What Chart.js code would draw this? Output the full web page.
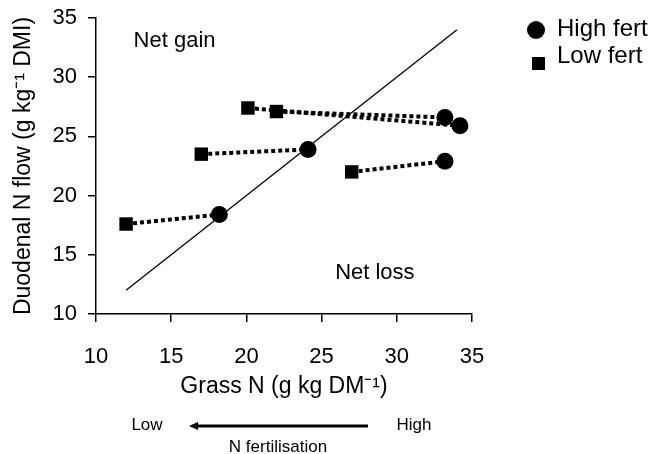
<!DOCTYPE html>
<html>
<head>
<meta charset="utf-8">
<script src="https://cdn.jsdelivr.net/npm/chart.js@4/dist/chart.umd.min.js"></script>
<style>
  html, body { margin: 0; padding: 0; background: #fff; }
  #wrap { width: 656px; height: 454px; }
</style>
</head>
<body>
<div id="wrap"><canvas id="nChart" width="656" height="454"></canvas></div>
<script>
// grass N (x) and duodenal N flow (y), paired low fert -> high fert
const lowFertX = [12.0, 17.0, 20.1, 22.0, 27.0];
const lowFertY = [17.6, 23.5, 27.4, 27.1, 22.0];
const highFertX = [18.2, 24.1, 34.2, 33.2, 33.2];
const highFertY = [18.4, 23.9, 25.9, 26.6, 22.9];
const oneToOne = [12, 34];
const axisTicks = [10, 15, 20, 25, 30, 35];

const FONT = "'Liberation Sans', Arial, sans-serif";

const toPoints = (xs, ys) => xs.map((x, i) => ({ x: x, y: ys[i] }));

const pairSets = lowFertX.map((x, i) => ({
    label: 'pair' + i,
    data: [{ x: x, y: lowFertY[i] }, { x: highFertX[i], y: highFertY[i] }],
    showLine: true,
    borderColor: '#000',
    borderWidth: 4,
    borderDash: [4, 3],
    borderCapStyle: 'butt',
    pointRadius: 0,
    order: 2
}));

const annotations = {
    id: 'annotations',
    afterDraw(chart) {
        const ctx = chart.ctx;
        const xs = chart.scales.x, ys = chart.scales.y;
        ctx.save();
        ctx.fillStyle = '#000';
        ctx.strokeStyle = '#000';
        ctx.textBaseline = 'middle';

        // region labels
        ctx.font = '22px ' + FONT;
        ctx.textAlign = 'left';
        ctx.fillText('Net gain', xs.getPixelForValue(12.5), ys.getPixelForValue(33.1));
        ctx.fillText('Net loss', xs.getPixelForValue(25.9), ys.getPixelForValue(13.5));

        // legend
        ctx.font = '24px ' + FONT;
        ctx.beginPath();
        ctx.arc(536, 30, 9, 0, Math.PI * 2);
        ctx.fill();
        ctx.fillText('High fert', 557, 29);
        ctx.fillRect(532, 57, 13, 13);
        ctx.fillText('Low fert', 557, 56);

        // fertilisation arrow
        ctx.font = '17px ' + FONT;
        ctx.textAlign = 'center';
        ctx.fillText('Low', 147, 425);
        ctx.fillText('High', 414, 425);
        ctx.fillText('N fertilisation', 278, 447);
        ctx.lineWidth = 3;
        ctx.beginPath();
        ctx.moveTo(368, 426);
        ctx.lineTo(196, 426);
        ctx.stroke();
        ctx.beginPath();
        ctx.moveTo(189, 426);
        ctx.lineTo(198, 422);
        ctx.lineTo(198, 430);
        ctx.closePath();
        ctx.fill();
        ctx.restore();
    }
};

const ctx = document.getElementById('nChart').getContext('2d');
const nChart = new Chart(ctx, {
    type: 'scatter',
    data: {
        datasets: [
            {
                label: 'High fert',
                data: toPoints(highFertX, highFertY),
                pointStyle: 'circle',
                pointRadius: 8.5,
                pointHoverRadius: 8.5,
                backgroundColor: '#000',
                borderColor: '#000',
                borderWidth: 0,
                order: 0
            },
            {
                label: 'Low fert',
                data: toPoints(lowFertX, lowFertY),
                pointStyle: 'rect',
                pointRadius: 9.5,
                pointHoverRadius: 9.5,
                backgroundColor: '#000',
                borderColor: '#000',
                borderWidth: 0,
                order: 0
            },
            ...pairSets,
            {
                label: '1:1',
                data: toPoints(oneToOne, oneToOne),
                showLine: true,
                borderColor: '#000',
                borderWidth: 1.3,
                pointRadius: 0,
                order: 3
            }
        ]
    },
    options: {
        responsive: false,
        animation: false,
        layout: { padding: { top: 18, right: 184, left: 0, bottom: 0 } },
        plugins: {
            legend: { display: false },
            tooltip: { enabled: false }
        },
        scales: {
            x: {
                type: 'linear',
                min: 10,
                max: 35,
                afterFit(scale) {
                    scale.height = 140;
                    scale.paddingLeft = 0;
                    scale.paddingRight = 0;
                },
                afterBuildTicks(scale) { scale.ticks = axisTicks.map(v => ({ value: v })); },
                grid: { drawOnChartArea: false, drawTicks: true, tickLength: 8, color: '#000', lineWidth: 1.5 },
                border: { color: '#000', width: 1.5 },
                ticks: { color: '#000', font: { family: FONT, size: 22 }, padding: 22, maxRotation: 0 },
                title: {
                    display: true,
                    text: 'Grass N (g kg DM\u207B\u00B9)',
                    color: '#000',
                    font: { family: FONT, size: 23 },
                    padding: { top: 0, bottom: 54 }
                }
            },
            y: {
                type: 'linear',
                min: 10,
                max: 35,
                afterFit(scale) {
                    scale.width = 96;
                    scale.paddingTop = 0;
                    scale.paddingBottom = 0;
                },
                afterBuildTicks(scale) { scale.ticks = axisTicks.map(v => ({ value: v })); },
                grid: { drawOnChartArea: false, drawTicks: true, tickLength: 8, color: '#000', lineWidth: 1.5 },
                border: { color: '#000', width: 1.5 },
                ticks: { color: '#000', font: { family: FONT, size: 22 }, padding: 11 },
                title: {
                    display: true,
                    text: 'Duodenal N flow (g kg\u207B\u00B9 DMI)',
                    color: '#000',
                    font: { family: FONT, size: 23 },
                    padding: { top: 10, bottom: 0 }
                }
            }
        }
    },
    plugins: [annotations]
});
</script>
</body>
</html>
